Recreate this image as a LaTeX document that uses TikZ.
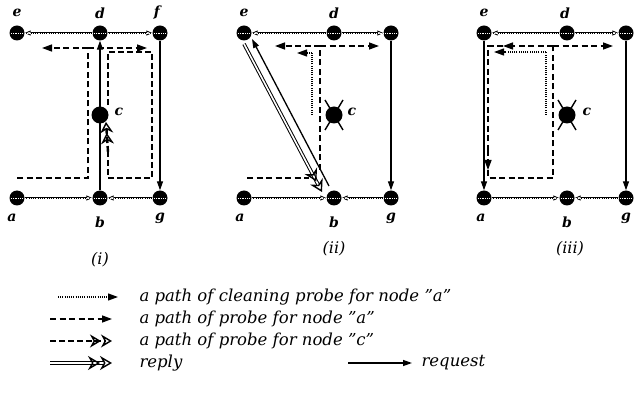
\documentclass[tikz,border=0pt]{standalone}
\usepackage{fontspec}
\setmainfont{DejaVu Serif}
\usetikzlibrary{arrows.meta,calc}
\begin{document}
\begin{tikzpicture}[x=1pt,y=-1pt,
  nd/.style={circle,fill=black,minimum size=15pt,inner sep=0pt,
    path picture={\draw[white,line width=0.8pt,dash pattern=on 0.8pt off 1pt]
      ([xshift=-6pt]path picture bounding box.center) -- ([xshift=6pt]path picture bounding box.center);}},
  cn/.style={circle,fill=black,minimum size=17pt,inner sep=0pt},
  lbl/.style={font=\fontsize{14}{14}\selectfont\bfseries\itshape},
  capt/.style={font=\fontsize{16}{16}\selectfont\itshape},
  leg/.style={font=\fontsize{16.5}{16.5}\selectfont\itshape,anchor=west},
  lnk/.style={line width=1.6pt,-{Triangle[open,length=6pt,width=5pt,line width=0.8pt]},
    postaction={draw=white,line width=0.5pt,dash pattern=on 0.8pt off 1pt,-}},
  req/.style={line width=1.3pt,-{Triangle[length=9pt,width=6pt]}},
  pa/.style={line width=1.4pt,dash pattern=on 6pt off 3.5pt,-{Triangle[length=10pt,width=7pt]}},
  pal/.style={line width=1.4pt,dash pattern=on 6pt off 3.5pt},
  pc/.style={line width=2.4pt,dash pattern=on 6pt off 3pt,-{Stealth[open,length=11pt,width=13pt,line width=1.4pt]Stealth[open,length=11pt,width=13pt,line width=1.4pt]}},
  pcl/.style={line width=2.4pt,dash pattern=on 6pt off 3pt},
  cl/.style={line width=1.2pt,dash pattern=on 1pt off 1.2pt,-{Triangle[length=10pt,width=7pt]}},
  cll/.style={line width=1.2pt,dash pattern=on 1pt off 1.2pt},
  rp/.style={double,double distance=1.6pt,line width=1pt,-{Stealth[open,length=12pt,width=14pt,line width=1.4pt]Stealth[open,length=12pt,width=14pt,line width=1.4pt]}},
  xx/.style={line width=1.4pt}
]
\useasboundingbox (0,0) rectangle (635,395);

% ---------- panel (i)
\node[nd] (ie) at (17,33) {};
\node[nd] (id) at (100,33) {};
\node[nd] (if) at (160,33) {};
\node[nd] (ia) at (17,198) {};
\node[nd] (ib) at (100,198) {};
\node[nd] (ig) at (160,198) {};
\node[lbl] at (17,13) {e};
\node[lbl] at (100,13) {d};
\node[lbl] at (157,13) {f};
\node[lbl] at (12,218) {a};
\node[lbl] at (100,222) {b};
\node[lbl] at (160,218) {g};
\node[lbl] at (119,112) {c};
\draw[lnk] (id) -- (ie);
\draw[lnk] (id) -- (if);
\draw[lnk] (ia) -- (ib);
\draw[lnk] (ig) -- (ib);
\draw[req] (if) -- (ig);
\draw[req] (ib) -- (id);
\node[cn] (ic) at (100,115) {};
\coordinate (ia1) at (88,48);
\draw[pal] (17,178) -- (88,178) -- (ia1);
\draw[pa] (ia1) -- (42,48);
\draw[pa] (ia1) -- (147,48);
\draw[pcl] (108,105) -- (108,52) -- (152,52) -- (152,178) -- (108,178) -- (108,152);
\draw[pc] (108,152) -- (106,122);

% ---------- panel (ii)
\node[nd] (iie) at (244,33) {};
\node[nd] (iid) at (334,33) {};
\node[nd] (iif) at (391,33) {};
\node[nd] (iia) at (244,198) {};
\node[nd] (iib) at (334,198) {};
\node[nd] (iig) at (391,198) {};
\node[lbl] at (244,13) {e};
\node[lbl] at (334,13) {d};
\node[lbl] at (240,218) {a};
\node[lbl] at (334,222) {b};
\node[lbl] at (391,218) {g};
\node[lbl] at (352,112) {c};
\draw[lnk] (iid) -- (iie);
\draw[lnk] (iid) -- (iif);
\draw[lnk] (iia) -- (iib);
\draw[lnk] (iig) -- (iib);
\draw[req] (iif) -- (iig);
\node[cn] (iic) at (334,115) {};
\draw[xx] ($(iic)+(-9,-15)$) -- ($(iic)+(9,15)$);
\draw[xx] ($(iic)+(9,-15)$) -- ($(iic)+(-9,15)$);
\draw[rp] ($(iie)+(0,11)$) -- ($(iib)+(-12,-6)$);
\draw[req] ($(iib)+(-5,-12)$) -- ($(iie)+(8,6)$);
\coordinate (iia1) at (320,46);
\draw[pal] (247,178) -- (309,178);
\draw[pal] (320,170) -- (iia1);
\draw[pa] (iia1) -- (275,46);
\draw[pa] (iia1) -- (379,46);
\draw[cll] (312,115) -- (312,53);
\draw[cl] (312,53) -- (297,53);

% ---------- panel (iii)
\node[nd] (iiie) at (484,33) {};
\node[nd] (iiid) at (567,33) {};
\node[nd] (iiif) at (626,33) {};
\node[nd] (iiia) at (484,198) {};
\node[nd] (iiib) at (567,198) {};
\node[nd] (iiig) at (626,198) {};
\node[lbl] at (484,13) {e};
\node[lbl] at (565,13) {d};
\node[lbl] at (481,218) {a};
\node[lbl] at (567,222) {b};
\node[lbl] at (626,218) {g};
\node[lbl] at (587,112) {c};
\draw[lnk] (iiid) -- (iiie);
\draw[lnk] (iiid) -- (iiif);
\draw[lnk] (iiia) -- (iiib);
\draw[lnk] (iiig) -- (iiib);
\draw[req] (iiif) -- (iiig);
\draw[req] (iiie) -- (iiia);
\node[cn] (iiic) at (567,115) {};
\draw[xx] ($(iiic)+(-9,-15)$) -- ($(iiic)+(9,15)$);
\draw[xx] ($(iiic)+(9,-15)$) -- ($(iiic)+(-9,15)$);
\coordinate (iiia1) at (553,46);
\draw[pa] (iiia1) -- (613,46);
\draw[pa] (iiia1) -- (503,46);
\draw[pal] (503,46) -- (488,46) -- (488,150);
\draw[pa] (488,150) -- (488,170);
\draw[pal] (488,170) -- (488,178) -- (553,178) -- (iiia1);
\draw[cll] (546,115) -- (546,52);
\draw[cl] (546,52) -- (494,52);

% ---------- captions
\node[capt] at (100,260) {(i)};
\node[capt] at (334,249) {(ii)};
\node[capt] at (570,249) {(iii)};

% ---------- legend
\coordinate (l1a) at (58,297); \coordinate (l1b) at (118,297);
\coordinate (l2a) at (50,319); \coordinate (l2b) at (112,319);
\coordinate (l3a) at (50,341); \coordinate (l3b) at (112,341);
\coordinate (l4a) at (50,363); \coordinate (l4b) at (112,363);
\coordinate (l5a) at (348,363); \coordinate (l5b) at (412,363);
\draw[cl] (l1a) -- (l1b);
\draw[pa] (l2a) -- (l2b);
\draw[pc] (l3a) -- (l3b);
\draw[rp] (l4a) -- (l4b);
\draw[req] (l5a) -- (l5b);
\node[leg] at (136,297) {a path of cleaning probe for node "a"};
\node[leg] at (136,319) {a path of probe for node "a"};
\node[leg] at (136,341) {a path of probe for node "c"};
\node[leg] at (136,363) {reply};
\node[leg] at (418,363) {request};
\end{tikzpicture}
\end{document}
